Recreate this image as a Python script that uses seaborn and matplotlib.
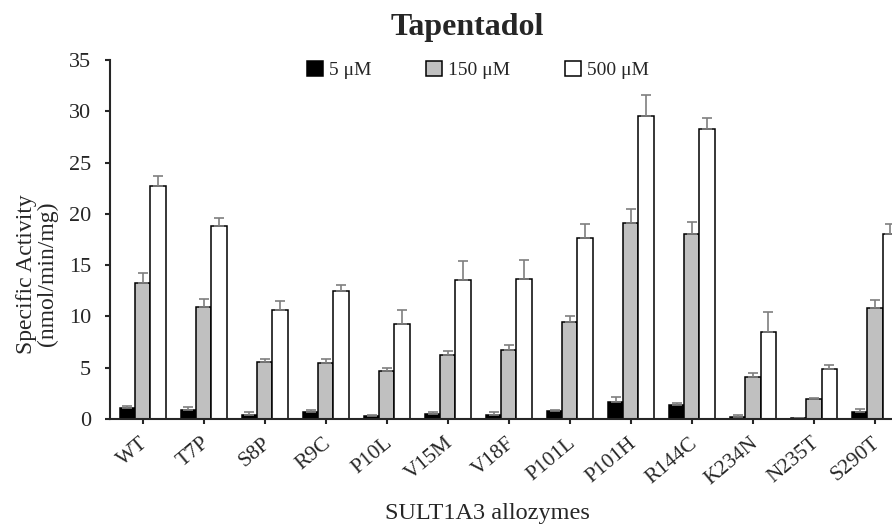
import pandas as pd
import numpy as np
import matplotlib
matplotlib.use("Agg")
import matplotlib.pyplot as plt
import matplotlib.transforms as mtransforms
import seaborn as sns

# Data
allozymes = ["WT", "T7P", "S8P", "R9C", "P10L", "V15M", "V18F",
             "P101L", "P101H", "R144C", "K234N", "N235T", "S290T"]
conc_labels = ["5 \u03bcM", "150 \u03bcM", "500 \u03bcM"]

act_5 = [1.07, 0.88, 0.39, 0.65, 0.32, 0.49, 0.42, 0.75, 1.66, 1.40, 0.16, 0.10, 0.68]
act_150 = [13.28, 10.90, 5.52, 5.49, 4.64, 6.20, 6.73, 9.42, 19.14, 18.04, 4.13, 1.92, 10.85]
act_500 = [22.76, 18.77, 10.62, 12.44, 9.25, 13.60, 13.65, 17.65, 29.57, 28.30, 8.48, 4.84, 18.00]

err_5 = [0.20, 0.26, 0.29, 0.23, 0.04, 0.19, 0.29, 0.13, 0.48, 0.13, 0.26, 0.03, 0.29]
err_150 = [0.92, 0.76, 0.32, 0.35, 0.30, 0.42, 0.47, 0.62, 1.36, 1.20, 0.32, 0.13, 0.78]
err_500 = [0.91, 0.78, 0.87, 0.64, 1.40, 1.80, 1.88, 1.39, 2.05, 1.00, 1.98, 0.39, 1.00]

bar_colors = ["#000000", "#c0c0c0", "#ffffff"]

df = pd.DataFrame({
    "allozyme": allozymes * 3,
    "conc": np.repeat(conc_labels, len(allozymes)),
    "activity": act_5 + act_150 + act_500,
})
errors = [err_5, err_150, err_500]

sns.set_style("ticks")
plt.rcParams["font.family"] = ["Liberation Serif", "DejaVu Serif"]

fig = plt.figure(figsize=(8.92, 5.25), dpi=100)
ax = fig.add_axes([110 / 892, 106 / 525, 782 / 892, 359 / 525])

sns.barplot(
    data=df, x="allozyme", y="activity", hue="conc",
    order=allozymes, hue_order=conc_labels,
    palette=bar_colors, width=0.75, errorbar=None,
    edgecolor="black", linewidth=1.1, ax=ax,
)

# upper error bars only
for cont, err in zip(ax.containers, errors):
    xs = [b.get_x() + b.get_width() / 2 for b in cont]
    ys = [b.get_height() for b in cont]
    ax.errorbar(xs, ys, yerr=[np.zeros(len(err)), err], fmt="none",
                ecolor="#7f7f7f", elinewidth=1.2, capsize=3.5, capthick=1.2,
                zorder=1)

ax.set_ylim(0, 35)
ax.set_yticks(range(0, 36, 5))
ax.set_xlim(-0.536, 12.28)

ax.tick_params(axis="y", labelsize=16, direction="out", length=3.6, width=1.5, pad=10)
ax.tick_params(axis="x", labelsize=15.5, direction="out", length=3.6, width=1.5, pad=7)
shift = mtransforms.ScaledTranslation(-0.03, 0, fig.dpi_scale_trans)
for lab in ax.get_xticklabels():
    lab.set_rotation(40)
    lab.set_ha("right")
    lab.set_rotation_mode("anchor")
    lab.set_transform(lab.get_transform() + shift)

for side in ["top", "right"]:
    ax.spines[side].set_visible(False)
for side in ["left", "bottom"]:
    ax.spines[side].set_linewidth(1.5)

ax.set_xlabel("")
ax.set_ylabel("")
fig.text(37 / 892, 1 - 274 / 525, "Specific Activity\n(nmol/min/mg)",
         rotation=90, ha="center", va="center", fontsize=17, linespacing=1.0)
fig.text(487 / 892, 1 - 513 / 525, "SULT1A3 allozymes",
         ha="center", va="center", fontsize=17.5)
fig.text(467 / 892, 1 - 27 / 525, "Tapentadol",
         ha="center", va="center", fontsize=23, fontweight="bold")

handles, labels = ax.get_legend_handles_labels()
ax.legend(handles, labels, loc="center", bbox_to_anchor=(478 / 892, 1 - 70 / 525),
          bbox_transform=fig.transFigure, ncol=3, frameon=False, fontsize=14,
          handlelength=0.8, handleheight=0.8, handletextpad=0.3, columnspacing=2.85)

fig.savefig("out.png", dpi=100)
